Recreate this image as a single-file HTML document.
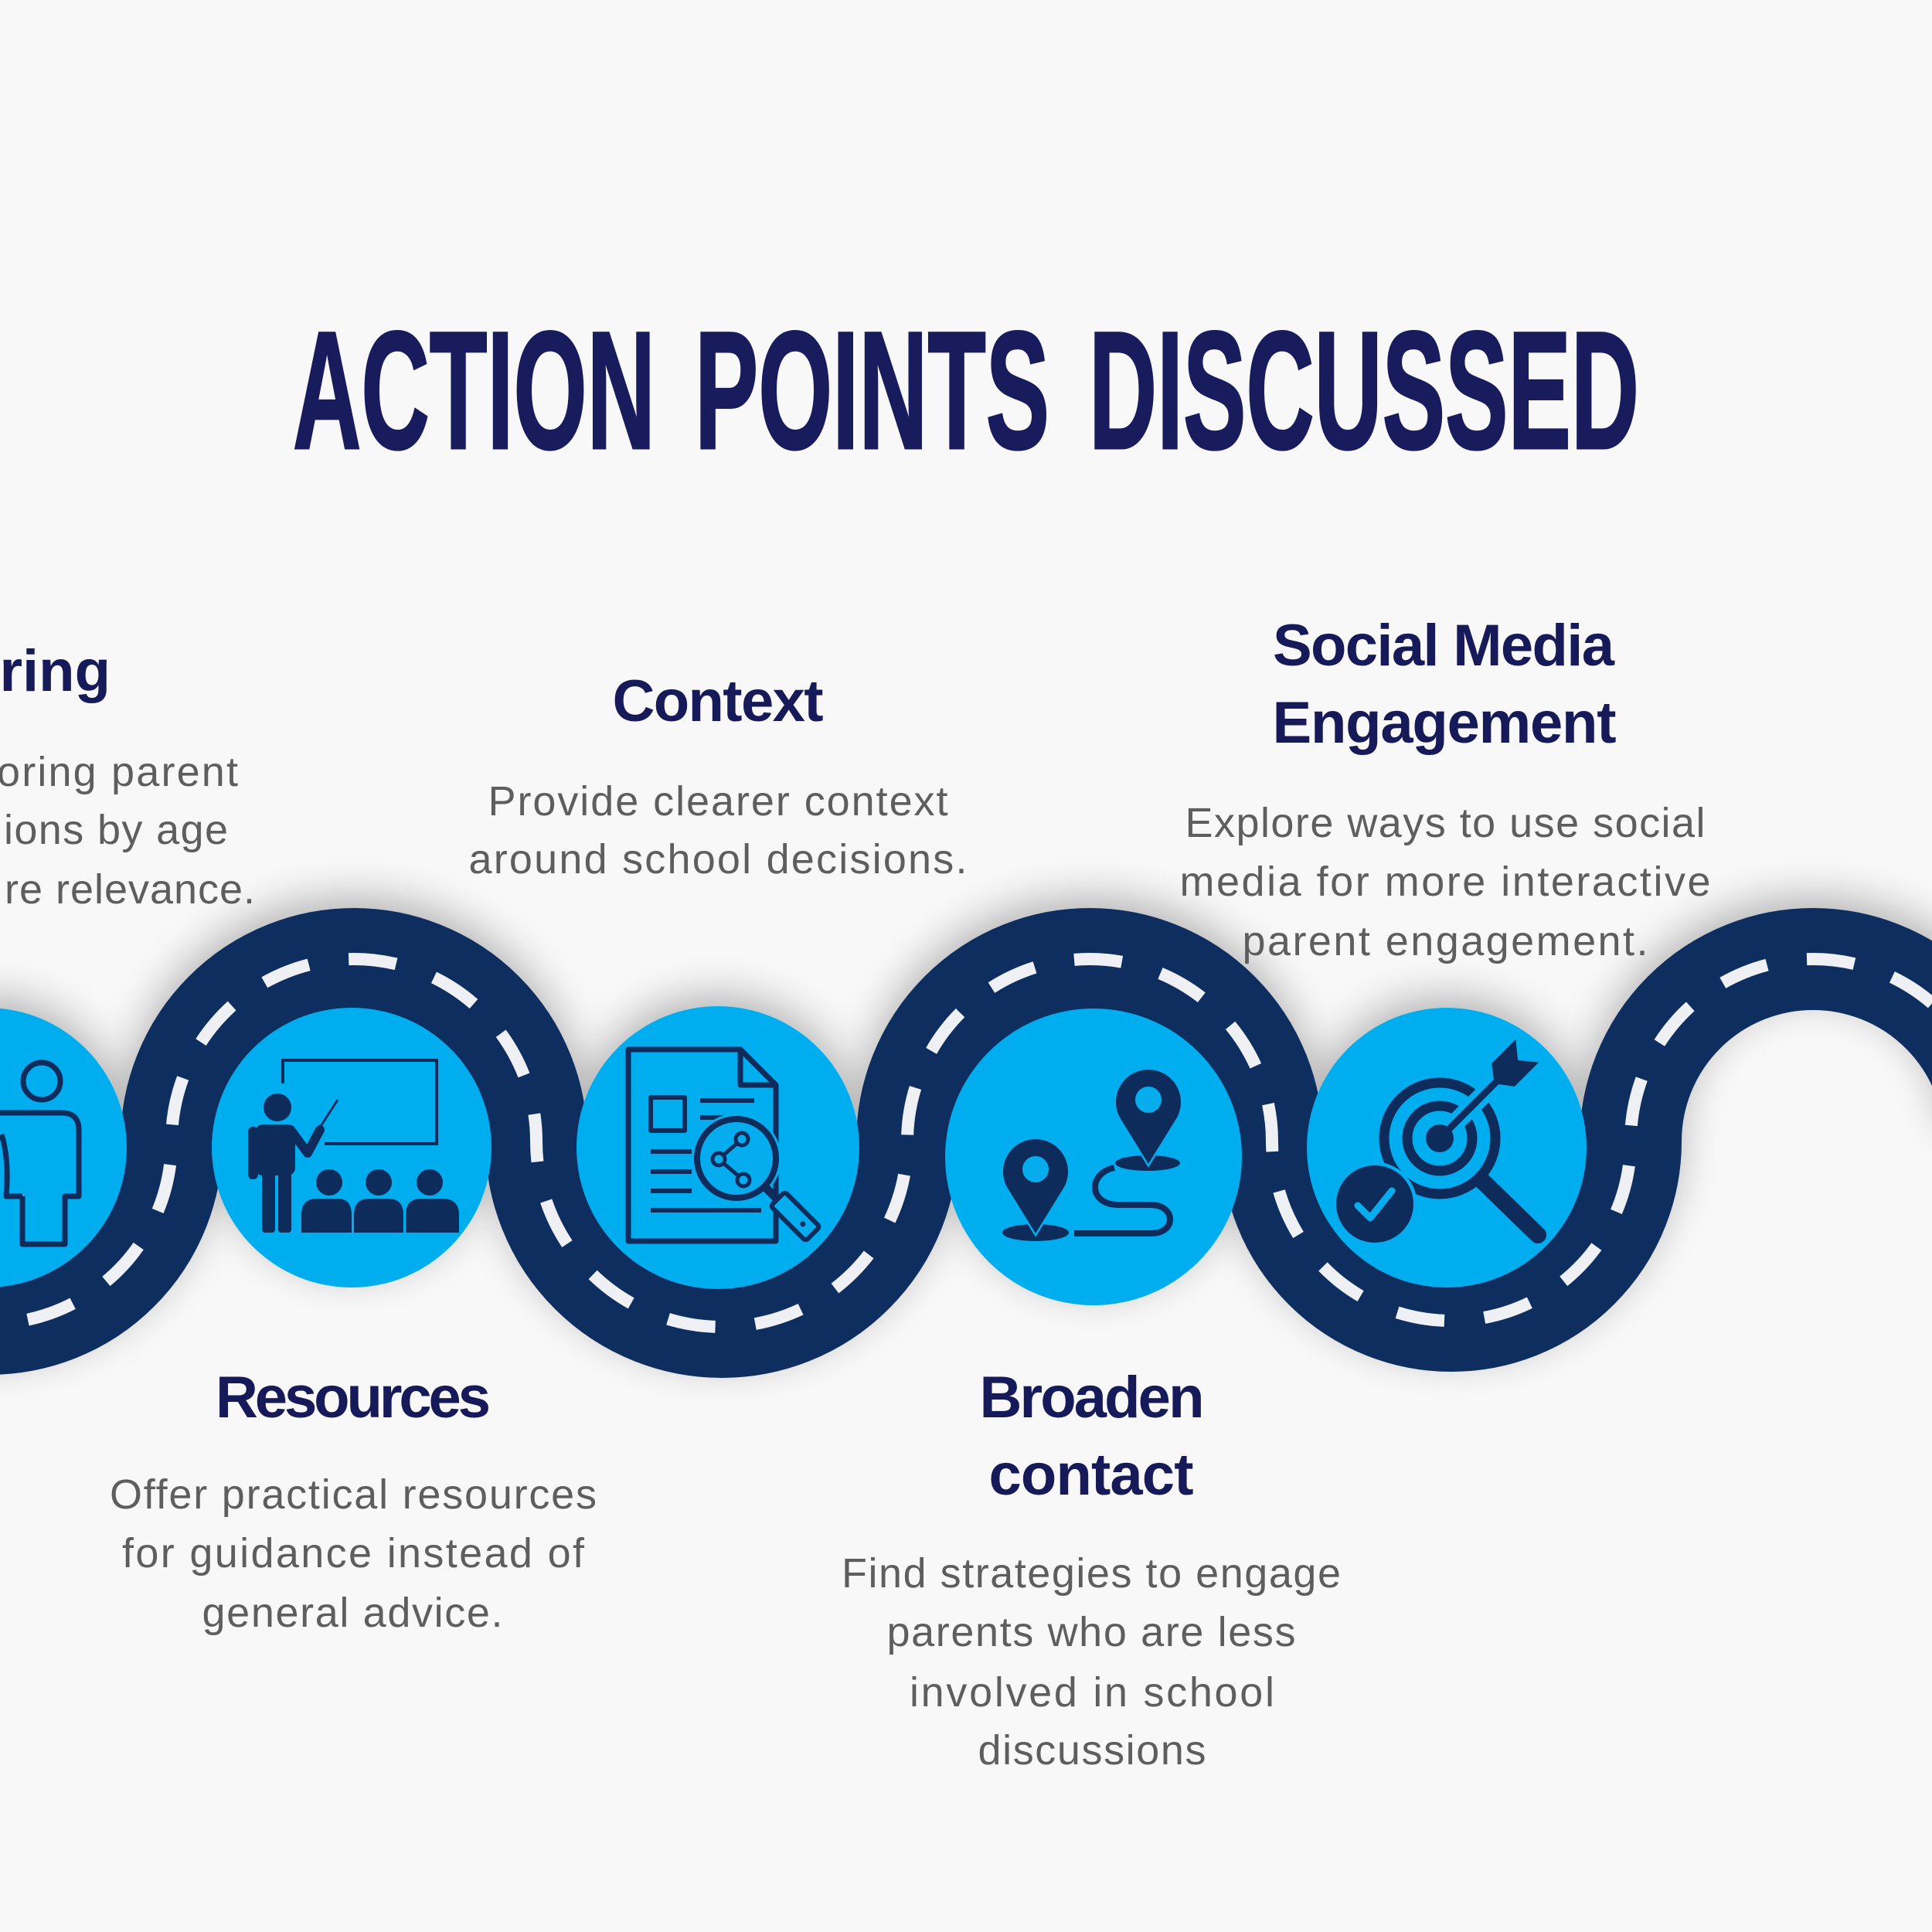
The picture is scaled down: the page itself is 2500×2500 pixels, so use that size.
<!DOCTYPE html>
<html><head><meta charset="utf-8">
<style>
html,body{margin:0;padding:0;background:#f8f8f9;}
svg{display:block;}
.t{font-family:"Liberation Sans",sans-serif;font-weight:bold;font-size:217px;fill:#191c5c;stroke:#191c5c;stroke-width:3;}
.h{font-family:"Liberation Sans",sans-serif;font-weight:bold;font-size:76px;fill:#161a58;}
.b{font-family:"Liberation Sans",sans-serif;font-size:54px;fill:#5e5e5e;}
</style></head><body>
<svg width="2500" height="2500" viewBox="0 0 2500 2500" xmlns="http://www.w3.org/2000/svg">
<defs>
<filter id="sh" x="-10%" y="-30%" width="120%" height="160%">
<feGaussianBlur in="SourceAlpha" stdDeviation="26"/>
<feOffset dy="-16"/>
<feComponentTransfer><feFuncA type="linear" slope="0.27"/></feComponentTransfer>
<feMerge><feMergeNode/><feMergeNode in="SourceGraphic"/></feMerge>
</filter>
</defs>
<rect width="2500" height="2500" fill="#f8f8f9"/>

<!-- Title -->
<text class="t" x="379" y="580" textLength="469" lengthAdjust="spacingAndGlyphs">ACTION</text>
<text class="t" x="899" y="580" textLength="459" lengthAdjust="spacingAndGlyphs">POINTS</text>
<text class="t" x="1409" y="580" textLength="712" lengthAdjust="spacingAndGlyphs">DISCUSSED</text>

<!-- Road + circles -->
<g filter="url(#sh)">
<path d="M -250 1477 A 236 236 0 0 0 222 1477 A 236 236 0 0 1 694 1477 A 240 240 0 0 0 1174 1477 A 236 236 0 0 1 1646 1477 A 232 232 0 0 0 2110 1477 A 236 236 0 0 1 2582 1477" fill="none" stroke="#0c2d5e" stroke-width="132"/>
<path d="M -250 1477 A 236 236 0 0 0 222 1477 A 236 236 0 0 1 694 1477 A 240 240 0 0 0 1174 1477 A 236 236 0 0 1 1646 1477 A 232 232 0 0 0 2110 1477 A 236 236 0 0 1 2582 1477" fill="none" stroke="#eef0f3" stroke-width="16" stroke-dasharray="62 52" stroke-dashoffset="35"/>
<circle cx="-17" cy="1485" r="181" fill="#05adef"/>
<circle cx="455" cy="1485" r="181" fill="#05adef"/>
<circle cx="929" cy="1485" r="183" fill="#05adef"/>
<circle cx="1415" cy="1497" r="192" fill="#05adef"/>
<circle cx="1872" cy="1485" r="181" fill="#05adef"/>
</g>

<!-- Left person icon -->
<g fill="none" stroke="#0d2c5b" stroke-width="7" stroke-linejoin="round">
<circle cx="54" cy="1399" r="24"/>
<path d="M -10 1440 H 80 Q 102 1440 102 1462 V 1548 H 84 V 1610 H 29 V 1548"/>
<path d="M 2 1468 Q 12 1500 8 1548 H 29"/>
</g>

<!-- Teacher icon -->
<g fill="#0d2c5b" stroke="none">
<path d="M 366 1402 V 1372 H 565 V 1480 H 420" fill="none" stroke="#0d2c5b" stroke-width="4"/>
<circle cx="359" cy="1433" r="18"/>
<rect x="330" y="1455" width="52" height="66" rx="10"/>
<rect x="321" y="1458" width="13" height="68" rx="6"/>
<rect x="339" y="1512" width="17" height="83" rx="4"/>
<rect x="360" y="1512" width="17" height="83" rx="4"/>
<path d="M 376 1462 L 398 1492 L 414 1462" fill="none" stroke="#0d2c5b" stroke-width="12" stroke-linecap="round" stroke-linejoin="round"/>
<line x1="412" y1="1462" x2="437" y2="1423" stroke="#0d2c5b" stroke-width="3"/>
<circle cx="426" cy="1530" r="17"/>
<circle cx="490" cy="1530" r="17"/>
<circle cx="556" cy="1530" r="17"/>
<path d="M 390 1595 V 1572 Q 390 1551 410 1551 H 437 Q 455 1551 455 1572 V 1595 Z"/>
<path d="M 458 1595 V 1572 Q 458 1551 478 1551 H 502 Q 522 1551 522 1572 V 1595 Z"/>
<path d="M 525 1595 V 1572 Q 525 1551 545 1551 H 572 Q 594 1551 594 1572 V 1595 Z"/>
</g>

<!-- Document icon -->
<g fill="none" stroke="#0d2c5b" stroke-width="7" stroke-linejoin="round">
<path d="M 813 1358 H 958 L 1004 1404 V 1606 H 813 Z"/>
<path d="M 958 1360 V 1404 H 1002"/>
<rect x="842" y="1420" width="44" height="43" stroke-width="6"/>
<line x1="906" y1="1424" x2="976" y2="1424" stroke-width="6"/>
<line x1="906" y1="1446" x2="950" y2="1446" stroke-width="6"/>
<line x1="842" y1="1490" x2="895" y2="1490" stroke-width="6"/>
<line x1="842" y1="1516" x2="895" y2="1516" stroke-width="6"/>
<line x1="842" y1="1541" x2="895" y2="1541" stroke-width="6"/>
<line x1="842" y1="1566" x2="985" y2="1566" stroke-width="6"/>
</g>
<circle cx="953" cy="1499" r="58" fill="#05adef"/>
<circle cx="953" cy="1499" r="51" fill="#05adef" stroke="#0d2c5b" stroke-width="8"/>
<line x1="990" y1="1536" x2="1004" y2="1550" stroke="#0d2c5b" stroke-width="11"/>
<g transform="translate(1029,1574) rotate(45)">
<rect x="-32" y="-13" width="64" height="26" rx="4" fill="#05adef" stroke="#0d2c5b" stroke-width="6"/>
<circle cx="14" cy="0" r="3.5" fill="#0d2c5b"/>
</g>
<g fill="none" stroke="#0d2c5b" stroke-width="5">
<line x1="960" y1="1474" x2="930" y2="1500"/>
<line x1="930" y1="1500" x2="962" y2="1527"/>
<circle cx="960" cy="1474" r="8" fill="#05adef"/>
<circle cx="930" cy="1500" r="8" fill="#05adef"/>
<circle cx="962" cy="1527" r="8" fill="#05adef"/>
</g>

<!-- Pins icon -->
<g>
<ellipse cx="1485" cy="1505" rx="42" ry="10" fill="#0d2c5b"/>
<ellipse cx="1340" cy="1595" rx="43" ry="11" fill="#0d2c5b"/>
<path d="M 1442 1511 C 1408 1518, 1408 1558, 1446 1559 H 1490 C 1522 1560, 1522 1596, 1490 1596 H 1390" fill="none" stroke="#0d2c5b" stroke-width="8"/>
<path d="M 1486 1506 L 1449 1446 A 42 42 0 1 1 1523 1446 Z" fill="#0d2c5b" stroke="#05adef" stroke-width="5" paint-order="stroke"/>
<circle cx="1486" cy="1423" r="17" fill="#05adef"/>
<path d="M 1340 1596 L 1303 1536 A 42 42 0 1 1 1377 1536 Z" fill="#0d2c5b" stroke="#05adef" stroke-width="5" paint-order="stroke"/>
<circle cx="1340" cy="1513" r="17" fill="#05adef"/>
</g>

<!-- Target icon -->
<g>
<circle cx="1863" cy="1473" r="72" fill="none" stroke="#0d2c5b" stroke-width="13"/>
<circle cx="1863" cy="1473" r="42" fill="none" stroke="#0d2c5b" stroke-width="13"/>
<line x1="1918" y1="1528" x2="1990" y2="1598" stroke="#0d2c5b" stroke-width="22" stroke-linecap="round"/>
<g transform="translate(1863,1473) rotate(-45)">
<rect x="10" y="-12" width="90" height="24" fill="#05adef"/>
<rect x="0" y="-4.5" width="120" height="9" fill="#0d2c5b"/>
<polygon points="100,0 116,-21 160,-21 143,0 160,21 116,21" fill="#0d2c5b"/>
</g>
<circle cx="1863" cy="1473" r="18" fill="#0d2c5b"/>
<circle cx="1779" cy="1558" r="50" fill="#0d2c5b" stroke="#05adef" stroke-width="9" paint-order="stroke"/>
<polyline points="1757,1560 1773,1576 1801,1541" fill="none" stroke="#05adef" stroke-width="9" stroke-linecap="round" stroke-linejoin="round"/>
</g>

<!-- Left partial text -->
<text class="h" x="143" y="894" text-anchor="end">ring</text>
<text class="b" x="308" y="1017" text-anchor="end" textLength="312">oring parent</text>
<text class="b" x="295" y="1092" text-anchor="end" textLength="290">ions by age</text>
<text class="b" x="330" y="1169" text-anchor="end" textLength="324">re relevance.</text>

<!-- Context -->
<text class="h" x="929" y="933" text-anchor="middle" textLength="273">Context</text>
<text class="b" x="929" y="1055" text-anchor="middle" textLength="595">Provide clearer context</text>
<text class="b" x="929" y="1130" text-anchor="middle" textLength="645">around school decisions.</text>

<!-- Social Media Engagement -->
<text class="h" x="1868" y="861" text-anchor="middle" textLength="442">Social Media</text>
<text class="h" x="1869" y="961" text-anchor="middle" textLength="445">Engagement</text>
<text class="b" x="1870" y="1083" text-anchor="middle" textLength="673">Explore ways to use social</text>
<text class="b" x="1870" y="1159" text-anchor="middle" textLength="687">media for more interactive</text>
<text class="b" x="1870" y="1236" text-anchor="middle" textLength="525">parent engagement.</text>

<!-- Resources -->
<text class="h" x="457" y="1834" text-anchor="middle" textLength="356">Resources</text>
<text class="b" x="457" y="1952" text-anchor="middle" textLength="630">Offer practical resources</text>
<text class="b" x="457" y="2028" text-anchor="middle" textLength="598">for guidance instead of</text>
<text class="b" x="456" y="2105" text-anchor="middle" textLength="389">general advice.</text>

<!-- Broaden contact -->
<text class="h" x="1413" y="1834" text-anchor="middle" textLength="291">Broaden</text>
<text class="h" x="1412" y="1934" text-anchor="middle" textLength="265">contact</text>
<text class="b" x="1412" y="2054" text-anchor="middle" textLength="646">Find strategies to engage</text>
<text class="b" x="1412" y="2130" text-anchor="middle" textLength="529">parents who are less</text>
<text class="b" x="1413" y="2208" text-anchor="middle" textLength="472">involved in school</text>
<text class="b" x="1413" y="2283" text-anchor="middle" textLength="295">discussions</text>
</svg>
</body></html>
